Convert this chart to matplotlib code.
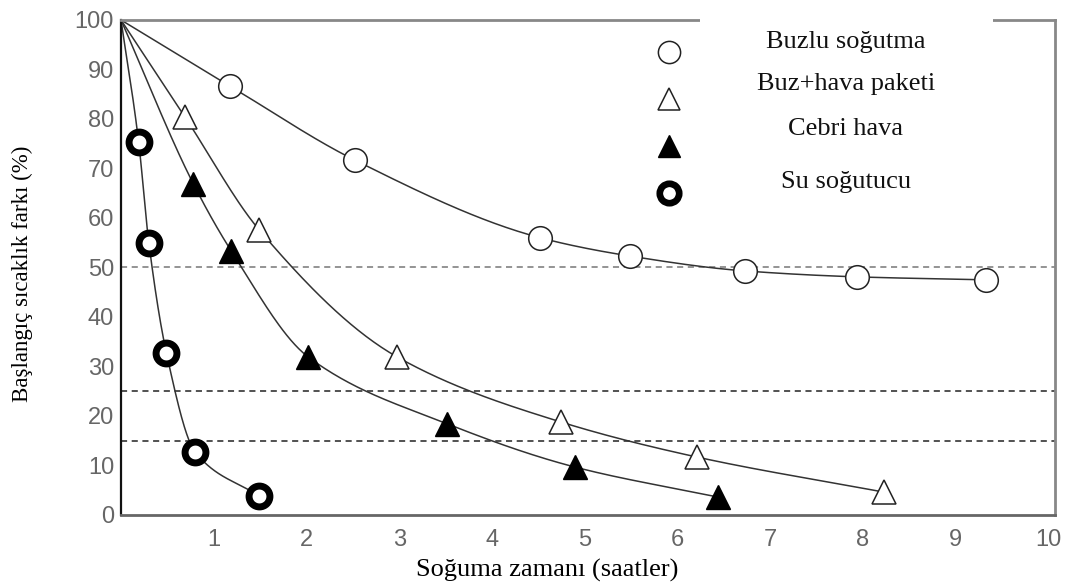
import numpy as np
import matplotlib.pyplot as plt
from matplotlib.patches import Rectangle

# cooling curves, every series starts at (0 h, 100 %)
buzlu_x = [0, 1.17, 2.52, 4.52, 5.49, 6.73, 7.94, 9.33]
buzlu_y = [100, 86.7, 71.7, 56.0, 52.3, 49.3, 48.1, 47.5]
paket_x = [0, 0.69, 1.49, 2.98, 4.74, 6.21, 8.23]
paket_y = [100, 80.4, 57.6, 31.9, 18.8, 11.7, 4.6]
cebri_x = [0, 0.78, 1.19, 2.02, 3.52, 4.89, 6.44]
cebri_y = [100, 66.9, 53.3, 31.9, 18.4, 9.7, 3.6]
su_x = [0, 0.19, 0.30, 0.49, 0.80, 1.49]
su_y = [100, 75.4, 55.0, 32.7, 12.7, 3.8]

ref_levels = [50, 25, 15]
ref_colors = ["#777777", "#222222", "#222222"]

labels = ["Buzlu soğutma", "Buz+hava paketi", "Cebri hava", "Su soğutucu"]


def pchip(x, y, n=300):
    x = np.asarray(x, float)
    y = np.asarray(y, float)
    h = np.diff(x)
    d = np.diff(y) / h
    m = np.zeros_like(y)
    for k in range(1, len(x) - 1):
        if d[k - 1] * d[k] > 0:
            w1 = 2 * h[k] + h[k - 1]
            w2 = h[k] + 2 * h[k - 1]
            m[k] = (w1 + w2) / (w1 / d[k - 1] + w2 / d[k])
    m[0] = d[0]
    m[-1] = d[-1]
    xs = np.linspace(x[0], x[-1], n)
    idx = np.clip(np.searchsorted(x, xs) - 1, 0, len(x) - 2)
    t = (xs - x[idx]) / h[idx]
    h00 = 2 * t**3 - 3 * t**2 + 1
    h10 = t**3 - 2 * t**2 + t
    h01 = -2 * t**3 + 3 * t**2
    h11 = t**3 - t**2
    ys = h00 * y[idx] + h10 * h[idx] * m[idx] + h01 * y[idx + 1] + h11 * h[idx] * m[idx + 1]
    return xs, ys


fig = plt.figure(figsize=(10.68, 5.84), dpi=100)
ax = fig.add_axes([0.1133, 0.1182, 0.8745, 0.8476])

for lvl, c in zip(ref_levels, ref_colors):
    ax.axhline(lvl, color=c, lw=1.1, ls=(0, (4, 3)), zorder=1)

styles = [
    dict(marker="o", ms=17, mfc="white", mec="#222222", mew=1.1),
    dict(marker="^", ms=17, mfc="white", mec="#222222", mew=1.1),
    dict(marker="^", ms=17, mfc="black", mec="black", mew=1.0),
    dict(marker="o", ms=15, mfc="white", mec="black", mew=5.0),
]
series = [(buzlu_x, buzlu_y), (paket_x, paket_y), (cebri_x, cebri_y), (su_x, su_y)]

for (sx, sy), st in zip(series, styles):
    cx, cy = pchip(sx, sy)
    ax.plot(cx, cy, color="#333333", lw=1.1, zorder=2)
    ax.plot(sx[1:], sy[1:], ls="none", zorder=3, **st)

ax.set_xlim(0, 10.07)
ax.set_ylim(0, 100)
ax.set_xticks(range(1, 11))
ax.set_yticks(range(0, 101, 10))
ax.tick_params(length=0, labelsize=17, labelcolor="#666666")
ax.tick_params(axis="y", pad=5)
ax.tick_params(axis="x", pad=10)
for lab in ax.get_xticklabels() + ax.get_yticklabels():
    lab.set_family("Liberation Sans")

ax.spines["left"].set_color("#111111")
ax.spines["left"].set_linewidth(1.6)
ax.spines["bottom"].set_color("#666666")
ax.spines["bottom"].set_linewidth(2)
ax.spines["top"].set_color("#888888")
ax.spines["top"].set_linewidth(2)
ax.spines["right"].set_color("#888888")
ax.spines["right"].set_linewidth(2)

ax.set_xlabel("Soğuma zamanı (saatler)", family="Liberation Serif", fontsize=19)
ax.xaxis.set_label_coords(0.456, -0.088)
ax.set_ylabel("Başlangıç sıcaklık farkı (%)", family="Liberation Serif", fontsize=16.5)
ax.yaxis.set_label_coords(-0.094, 0.487)

# white legend panel sitting over the top frame
ax.add_patch(Rectangle((0.6554, 0.93), 0.2743, 0.1, transform=fig.transFigure,
                       facecolor="white", edgecolor="none", zorder=5, clip_on=False))
leg_y = [0.911, 0.831, 0.750, 0.670]
text_y = [0.928, 0.856, 0.779, 0.688]
leg_ms = [16, 16, 16, 14]
for st, ms, ly, ty, lab in zip(styles, leg_ms, leg_y, text_y, labels):
    s = dict(st)
    s["ms"] = ms
    if s["mew"] > 3:
        s["mew"] = 4.8
    ax.plot([0.6264], [ly], transform=fig.transFigure, ls="none", clip_on=False, zorder=6, **s)
    fig.text(0.792, ty, lab, ha="center", va="center", family="Liberation Serif",
             fontsize=19, color="#111111", zorder=6)

fig.savefig("out.png", dpi=100)
